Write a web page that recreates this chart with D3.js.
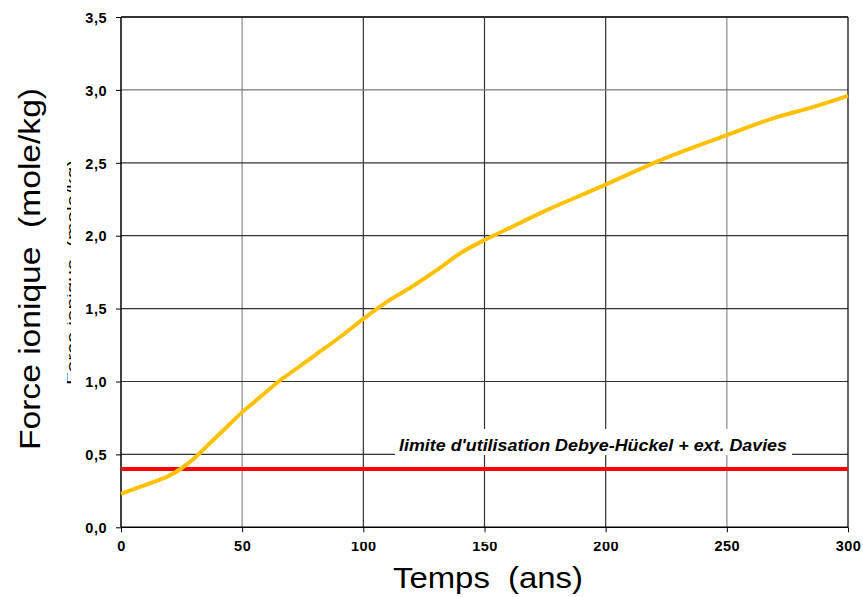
<!DOCTYPE html>
<html><head><meta charset="utf-8">
<script src="https://cdn.jsdelivr.net/npm/d3@7"></script>
<style>body{margin:0;background:#fff}svg{display:block}text{white-space:pre}</style>
</head><body>
<svg id="c" width="863" height="597"></svg>
<script>
const timeYears = [0,5,10,15,20,25,30,35,40,45,50,55,60,65,70,80,90,100,110,120,130,140,150,160,175,200,220,250,270,285,300];
const ionicStrength = [0.23,0.26,0.29,0.32,0.355,0.405,0.47,0.55,0.63,0.71,0.79,0.86,0.93,1.00,1.06,1.18,1.30,1.43,1.55,1.65,1.76,1.88,1.97,2.05,2.17,2.35,2.50,2.69,2.81,2.88,2.96];
const limitValue = 0.4;
const limitLabel = "limite d'utilisation Debye-Hückel + ext. Davies";
const xTicks = [0,50,100,150,200,250,300];
const yTicks = [0,0.5,1.0,1.5,2.0,2.5,3.0,3.5];
const xTitle = "Temps  (ans)";
const yTitle = "Force ionique  (mole/kg)";

const svg = d3.select("#c");
const L=121, R=848, T=17, B=527.3;
const x = d3.scaleLinear().domain([0,300]).range([L,R]);
const y = d3.scaleLinear().domain([0,3.5]).range([B,T]);
const fmtY = d => d3.format(".1f")(d).replace(".", ",");
const font = "'Liberation Sans', Arial, sans-serif";

// gridlines
const vGray = new Set([50,250]);
svg.append("g").selectAll("line").data(xTicks.filter(d=>d>0&&d<300)).join("line")
  .attr("x1",d=>x(d)).attr("x2",d=>x(d)).attr("y1",T).attr("y2",B)
  .attr("stroke",d=>vGray.has(d)?"#a6a6a6":"#333").attr("stroke-width",d=>vGray.has(d)?1.6:1.2);
const hGray = new Set([3.0]);
svg.append("g").selectAll("line").data(yTicks.filter(d=>d>0&&d<3.5)).join("line")
  .attr("x1",L).attr("x2",R).attr("y1",d=>y(d)).attr("y2",d=>y(d))
  .attr("stroke",d=>hGray.has(d)?"#777":"#333").attr("stroke-width",d=>hGray.has(d)?1.3:1.2);

// frame
svg.append("line").attr("x1",L).attr("x2",R).attr("y1",y(3.5)).attr("y2",y(3.5)).attr("stroke","#333").attr("stroke-width",2);
svg.append("line").attr("x1",R).attr("x2",R).attr("y1",T).attr("y2",B).attr("stroke","#111").attr("stroke-width",1.3);

// axes
const yAxis = svg.append("g").attr("transform",`translate(${L},0)`)
  .call(d3.axisLeft(y).tickValues(yTicks).tickFormat(fmtY).tickSize(5).tickPadding(9));
const xAxis = svg.append("g").attr("transform",`translate(0,${B})`)
  .call(d3.axisBottom(x).tickValues(xTicks).tickFormat(d3.format("d")).tickSize(5));
[xAxis,yAxis].forEach(a=>{
  a.select(".domain").attr("stroke","#000").attr("stroke-width",1.5);
  a.selectAll(".tick line").attr("stroke","#000").attr("stroke-width",1);
  a.selectAll(".tick text").attr("fill","#000").style("font-family",font).style("font-weight","bold")
    .style("font-size","14.5px").style("letter-spacing","0.5px");
});
yAxis.selectAll(".tick text").attr("dy","0.36em");
xAxis.selectAll(".tick text").attr("y",13).attr("dy","0.71em");
yAxis.select(".domain").attr("d",`M0,${B}V${T}`);
xAxis.select(".domain").attr("d",`M${L},0H${R}`);

// clip top of 100/150/200 labels like the reference
svg.append("clipPath").attr("id","xlab").append("rect").attr("x",-50).attr("y",14.8).attr("width",100).attr("height",40);
xAxis.selectAll(".tick").filter(d=>d>=100&&d<=200).select("text").attr("clip-path","url(#xlab)");

// limit label box + text
svg.append("rect").attr("x",395).attr("y",y(limitValue)-40).attr("width",397).attr("height",26).attr("fill","#fff");
svg.append("text").attr("x",399).attr("y",y(limitValue)-18)
  .attr("textLength",388).attr("lengthAdjust","spacingAndGlyphs")
  .style("font-family",font).style("font-weight","bold").style("font-style","italic").style("font-size","17px")
  .text(limitLabel);

// limit line
svg.append("line").attr("x1",L).attr("x2",R).attr("y1",y(limitValue)).attr("y2",y(limitValue))
  .attr("stroke","#ff0000").attr("stroke-width",4);

// curve
const line = d3.line().x((d,i)=>x(timeYears[i])).y(d=>y(d)).curve(d3.curveMonotoneX);
svg.append("path").datum(ionicStrength).attr("d",line).attr("fill","none")
  .attr("stroke","#ffc000").attr("stroke-width",4).attr("stroke-linejoin","round");

// axis titles
svg.append("text").attr("x",393).attr("y",588)
  .attr("textLength",190).attr("lengthAdjust","spacingAndGlyphs")
  .style("font-family",font).style("font-size","29px").text(xTitle);
svg.append("text").attr("transform","translate(40,450) rotate(-90)")
  .attr("textLength",362).attr("lengthAdjust","spacingAndGlyphs")
  .style("font-family",font).style("font-size","29px").text(yTitle);

// ghost clipped title remnant
svg.append("clipPath").attr("id","ghost").append("rect").attr("x",67).attr("y",150).attr("width",4).attr("height",245);
svg.append("g").attr("clip-path","url(#ghost)")
  .append("text").attr("transform","translate(78,385) rotate(-90)")
  .attr("textLength",225).attr("lengthAdjust","spacingAndGlyphs")
  .style("font-family",font).style("font-size","16px").style("fill","#000").text(yTitle);
</script>
</body></html>
